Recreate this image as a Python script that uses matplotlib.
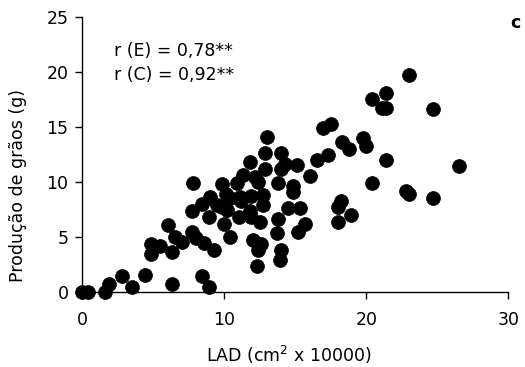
import matplotlib
matplotlib.use("Agg")
import matplotlib.pyplot as plt

plt.rcParams['font.family'] = ['DejaVu Sans']
plt.rcParams['mathtext.fontset'] = 'dejavusans'

lad = [0.0, 0.4, 1.6, 1.9, 2.8, 3.5, 4.4, 6.3, 8.4, 8.9,
       4.8, 4.8, 5.5, 6.0, 6.3, 6.5, 7.0, 7.7, 8.0, 8.6, 9.3,
       7.8, 7.7, 8.4, 9.0, 8.9, 9.45, 9.8, 9.8, 10.0, 10.15, 10.4, 10.4,
       11.0, 11.1, 11.2, 11.3, 11.8, 11.8, 11.9, 11.9, 12.0, 12.3, 12.4,
       12.4, 12.15, 12.5, 12.6, 12.7, 12.7, 12.85, 12.85, 13.0, 13.7, 13.8,
       13.8, 13.9, 14.0, 14.0, 14.0, 14.3, 14.5, 14.85, 14.85, 15.1, 15.3,
       15.2, 15.7, 16.0, 16.5, 16.95, 17.5, 17.3, 18.3, 18.8, 19.8, 20.0,
       18.0, 18.0, 18.25, 18.9, 20.4, 20.4, 21.1, 21.4, 21.4, 23.0, 24.7,
       21.4, 22.8, 23.0, 24.7, 26.5, 10.9, 10.2]
producao = [0.0, 0.0, 0.0, 0.7, 1.4, 0.4, 1.5, 0.7, 1.4, 0.4,
            4.3, 3.4, 4.2, 6.1, 3.6, 5.0, 4.5, 5.4, 4.9, 4.4, 3.8,
            9.9, 7.3, 8.0, 8.6, 6.8, 7.9, 9.8, 7.7, 6.2, 8.9, 8.5, 5.0,
            6.8, 8.6, 8.3, 10.6, 11.8, 7.3, 8.7, 6.8, 4.7, 2.3, 3.8,
            10.0, 10.45, 6.3, 4.3, 7.9, 8.8, 11.2, 12.6, 14.1, 5.3, 9.85,
            6.6, 2.9, 3.8, 12.6, 11.2, 11.6, 7.6, 9.6, 9.1, 11.5, 7.6,
            5.4, 6.2, 10.5, 12.0, 14.9, 15.3, 12.4, 13.6, 13.0, 14.0, 13.3,
            7.7, 6.3, 8.3, 7.0, 9.9, 17.5, 16.7, 16.7, 18.1, 19.7, 16.6,
            12.0, 9.2, 8.9, 8.5, 11.4, 9.9, 7.4]

x_ticks = [0, 10, 20, 30]
y_ticks = [0, 5, 10, 15, 20, 25]

fig = plt.figure(figsize=(5.25, 3.67), dpi=100)
ax = fig.add_axes([0.157, 0.205, 0.811, 0.749])

ax.scatter(lad, producao, s=100, c='black', edgecolors='black', linewidths=0.5,
           clip_on=False, zorder=3)

ax.set_xlim(0, 30)
ax.set_ylim(0, 25)
ax.set_xticks(x_ticks)
ax.set_yticks(y_ticks)
ax.spines['top'].set_visible(False)
ax.spines['right'].set_visible(False)
for s in ['left', 'bottom']:
    ax.spines[s].set_linewidth(1.0)
ax.tick_params(direction='out', length=5, width=1, labelsize=12.5)
ax.tick_params(axis='x', pad=9)
ax.tick_params(axis='y', pad=5)

ax.set_xlabel('LAD (cm$^2$ x 10000)', fontsize=12.5)
ax.set_ylabel('Produção de grãos (g)', fontsize=12.5)
ax.xaxis.set_label_coords(0.485, -0.23)
ax.xaxis.label.set_va('center')
ax.yaxis.set_label_coords(-0.151, 0.388)
ax.yaxis.label.set_va('center')

ax.text(2.2, 21.9, 'r (E) = 0,78**', fontsize=12.5, va='center', ha='left')
ax.text(2.2, 19.7, 'r (C) = 0,92**', fontsize=12.5, va='center', ha='left')
fig.text(515 / 525, 1 - 23 / 367, 'c', fontsize=12.5, fontweight='bold',
         ha='center', va='center')

fig.savefig('out.png', dpi=100)
